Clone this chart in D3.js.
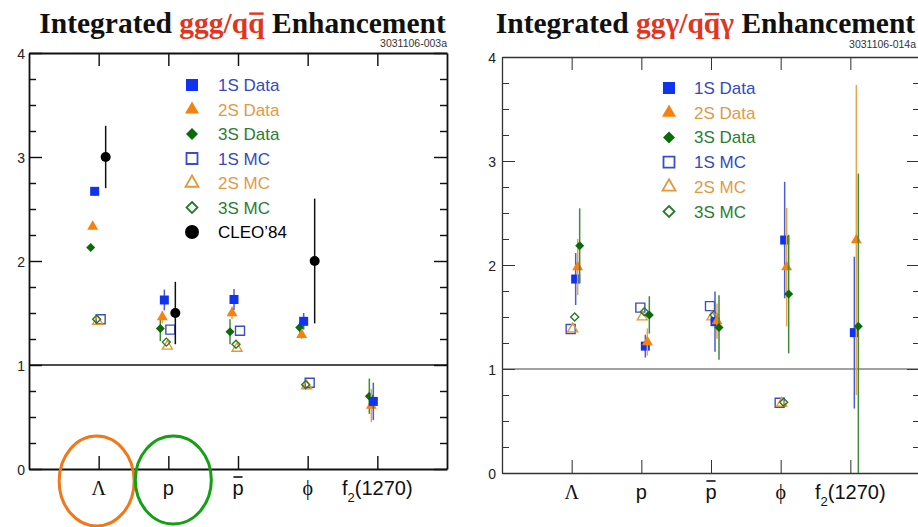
<!DOCTYPE html>
<html><head><meta charset="utf-8">
<script src="https://cdn.jsdelivr.net/npm/d3@7"></script>
<style>html,body{margin:0;padding:0;background:#fff;}svg{display:block;}</style>
</head><body><svg id="chart" width="918" height="527"></svg>
<script>
// ---------- DATA ----------
const categories = ["Λ", "p", "p\u0304", "ϕ", "f2(1270)"];
const yTickLabels = [0, 1, 2, 3, 4];
const seriesNames = ["1S Data", "2S Data", "3S Data", "1S MC", "2S MC", "3S MC", "CLEO’84"];

// Left panel: ggg / q q̄
const ggg1SData = [2.67, 1.625, 1.63, 1.42, 0.65];
const ggg1SErr  = [0.04, 0.10, 0.10, 0.08, 0.18];
const ggg2SData = [2.33, 1.46, 1.50, 1.29, 0.61];
const ggg2SErr  = [0.03, 0.06, 0.06, 0.04, 0.16];
const ggg3SData = [2.13, 1.35, 1.32, 1.36, 0.70];
const ggg3SErr  = [0.02, 0.12, 0.12, 0.05, 0.17];
const ggg1SMC   = [1.44, 1.34, 1.33, 0.83, null];
const ggg2SMC   = [1.42, 1.18, 1.16, 0.80, null];
const ggg3SMC   = [1.44, 1.22, 1.20, 0.81, null];
const gggCLEO   = [3.0, 1.5, null, 2.0, null];
const gggCLEOErr= [0.3, 0.3, null, 0.6, null];

// Right panel: ggγ / q q̄ γ
const ggy1SData = [1.865, 1.22, 1.455, 2.24, 1.35];
const ggy1SErr  = [0.25, 0.11, 0.29, 0.56, 0.73];
const ggy2SData = [1.98, 1.26, 1.46, 1.98, 2.24];
const ggy2SErr  = [0.27, 0.13, 0.17, 0.57, 1.49];
const ggy3SData = [2.185, 1.52, 1.40, 1.72, 1.41];
const ggy3SErr  = [0.36, 0.18, 0.31, 0.57, 1.47];
const ggy1SMC   = [1.385, 1.59, 1.605, 0.676, null];
const ggy2SMC   = [1.385, 1.50, 1.50, 0.67, null];
const ggy3SMC   = [1.50, 1.55, 1.52, 0.68, null];

// ---------- STYLE ----------
const C = {
  blue: "#0f33f0", blueOpen: "#3b4ec6", blueText: "#3649be", blueErr: "#4a5ed2",
  orange: "#f5820f", orangeOpen: "#e8953a", orangeText: "#e19a45", orangeErr: "#e9a448",
  green: "#0b6b0b", greenOpen: "#2a7a2a", greenText: "#2c7d33", greenErr: "#3d8c3d",
  red: "#e0361f"
};
const styles = {
  "1S Data": {shape: "square", filled: true, color: C.blue, text: C.blueText, err: C.blueErr},
  "2S Data": {shape: "triangle", filled: true, color: C.orange, text: C.orangeText, err: C.orangeErr},
  "3S Data": {shape: "diamond", filled: true, color: C.green, text: C.greenText, err: C.greenErr},
  "1S MC": {shape: "square", filled: false, color: C.blueOpen, text: C.blueText, err: C.blueErr},
  "2S MC": {shape: "triangle", filled: false, color: C.orangeOpen, text: C.orangeText, err: C.orangeErr},
  "3S MC": {shape: "diamond", filled: false, color: C.greenOpen, text: C.greenText, err: C.greenErr},
  "CLEO’84": {shape: "circle", filled: true, color: "#000", text: "#000", err: "#111"}
};

function markerPath(shape, w) {
  if (shape === "square") return d3.symbol(d3.symbolSquare, w * w)();
  if (shape === "circle") return d3.symbol(d3.symbolCircle, Math.PI * w * w / 4)();
  if (shape === "triangle") return d3.symbol(d3.symbolTriangle, Math.sqrt(3) / 4 * w * w)();
  const h = w / 2;
  return `M0,${-h}L${h},0L0,${h}L${-h},0Z`;
}
const plotSize = {square: 9, triangle: 11, diamond: 9, circle: 10};
const openSize = {square: 9, triangle: 10, diamond: 8};
const legendSize = {square: 12, triangle: 14, diamond: 12, circle: 14};

const svg = d3.select("#chart");

function drawTitle(cx, baseline, parts, size) {
  const t = svg.append("text").attr("x", cx).attr("y", baseline).attr("text-anchor", "middle")
    .style("font-family", "'Liberation Serif','Times New Roman',serif").style("font-weight", "bold")
    .style("font-size", size + "px");
  let idx = 0; const bars = [];
  parts.forEach(p => {
    t.append("tspan").text(p.t).attr("fill", p.c);
    if (p.bar) bars.push(idx);
    idx += p.t.length;
  });
  const node = t.node();
  bars.forEach(i => {
    const s = node.getStartPositionOfChar(i).x, e = node.getEndPositionOfChar(i).x;
    svg.append("line").attr("x1", s + 1).attr("x2", e - 1)
      .attr("y1", baseline - size * 0.64).attr("y2", baseline - size * 0.64)
      .attr("stroke", C.red).attr("stroke-width", 2.4);
  });
}

function drawPanel(o) {
  const {L, R, T, B} = o;
  const x = d3.scalePoint().domain(categories).range([L, R]).padding(1);
  const y = d3.scaleLinear().domain([0, 4]).range([B, T]);
  const minor = d3.range(1, 16).filter(i => i % 4).map(i => i / 4);
  const g = svg.append("g");
  const sw = o.lineW, lc = o.lineC;

  const styleAxis = sel => {
    sel.selectAll("path.domain").attr("stroke", lc).attr("stroke-width", sw);
    sel.selectAll(".tick line").attr("stroke", lc).attr("stroke-width", sw * 0.8);
  };
  g.append("g").attr("transform", `translate(${L},0)`)
    .call(d3.axisLeft(y).tickValues(minor).tickSizeInner(-7).tickSizeOuter(0).tickFormat(""))
    .call(s => s.select(".domain").remove()).call(styleAxis);
  g.append("g").attr("transform", `translate(${L},0)`)
    .call(d3.axisLeft(y).tickValues(yTickLabels).tickSizeInner(-13).tickSizeOuter(0).tickPadding(o.labPad).tickFormat(d3.format("d")))
    .call(styleAxis)
    .call(s => s.selectAll("text").attr("fill", "#222").attr("dy", "0.40em")
      .style("font-family", "'Liberation Sans',Arial,sans-serif").style("font-size", "14px"));
  g.append("g").attr("transform", `translate(${R},0)`)
    .call(d3.axisRight(y).tickValues(minor).tickSizeInner(-7).tickSizeOuter(0).tickFormat(""))
    .call(s => s.select(".domain").remove()).call(styleAxis);
  g.append("g").attr("transform", `translate(${R},0)`)
    .call(d3.axisRight(y).tickValues(yTickLabels).tickSizeInner(-13).tickSizeOuter(0).tickFormat(""))
    .call(styleAxis);
  g.append("g").attr("transform", `translate(0,${T})`)
    .call(d3.axisTop(x).tickSizeInner(-13).tickSizeOuter(0).tickFormat("")).call(styleAxis);
  g.append("g").attr("transform", `translate(0,${B})`)
    .call(d3.axisBottom(x).tickSizeInner(-13).tickSizeOuter(0).tickFormat("")).call(styleAxis);

  const lb = B + 26;
  categories.forEach(c => {
    const cx = x(c);
    const t = g.append("text").attr("x", cx).attr("y", lb).attr("text-anchor", "middle")
      .attr("fill", "#111").style("font-size", "20px")
      .style("font-family", "'Liberation Sans',Arial,sans-serif");
    if (c === "Λ" || c === "ϕ") {
      t.text(c).style("font-family", "'Liberation Serif','Times New Roman',serif");
    } else if (c.indexOf("\u0304") >= 0) {
      t.text(c.replace("\u0304", ""));
      const bb = t.node().getBBox();
      g.append("line").attr("x1", bb.x + 1).attr("x2", bb.x + bb.width - 1)
        .attr("y1", lb - 18).attr("y2", lb - 18).attr("stroke", "#111").attr("stroke-width", 1.6);
    } else if (c.startsWith("f2")) {
      t.append("tspan").text("f");
      t.append("tspan").text("2").attr("dy", 7).style("font-size", "13px");
      t.append("tspan").text(c.slice(2)).attr("dy", -7);
    } else {
      t.text(c);
    }
  });

  g.append("line").attr("x1", L).attr("x2", R).attr("y1", y(1)).attr("y2", y(1))
    .attr("stroke", o.oneC).attr("stroke-width", o.oneW);

  const cid = "clip" + L;
  svg.append("clipPath").attr("id", cid).append("rect")
    .attr("x", L).attr("y", T).attr("width", R - L).attr("height", B - T);
  const pg = svg.append("g").attr("clip-path", `url(#${cid})`);

  o.series.forEach(s => {
    const st = styles[s.name];
    const off = o.offsets[s.name];
    const pts = categories.map((c, i) => ({c, v: s.values[i], e: s.errors ? s.errors[i] : null}))
      .filter(d => d.v != null);
    pg.selectAll(null).data(pts.filter(d => d.e != null)).join("line")
      .attr("x1", d => x(d.c) + off).attr("x2", d => x(d.c) + off)
      .attr("y1", d => y(d.v - d.e)).attr("y2", d => y(d.v + d.e))
      .attr("stroke", st.err).attr("stroke-width", o.errW);
    const size = st.filled ? plotSize[st.shape] : openSize[st.shape];
    pg.selectAll(null).data(pts).join("path")
      .attr("transform", d => `translate(${x(d.c) + off},${y(d.v)})`)
      .attr("d", markerPath(st.shape, size))
      .attr("fill", st.filled ? st.color : "none")
      .attr("stroke", st.filled ? "none" : st.color)
      .attr("stroke-width", st.filled ? 0 : 1.4);
  });

  o.legendNames.forEach((n, i) => {
    const st = styles[n];
    const yy = o.leg.y0 + i * o.leg.dy;
    g.append("path").attr("transform", `translate(${o.leg.mx},${yy})`)
      .attr("d", markerPath(st.shape, st.filled ? legendSize[st.shape] : legendSize[st.shape] - 1))
      .attr("fill", st.filled ? st.color : "none")
      .attr("stroke", st.filled ? "none" : st.color).attr("stroke-width", st.filled ? 0 : 1.8);
    g.append("text").attr("x", o.leg.tx).attr("y", yy + 6).text(n).attr("fill", st.text)
      .style("font-family", "'Liberation Sans',Arial,sans-serif").style("font-size", "17px");
  });
  return {x, y};
}

const left = drawPanel({
  L: 29, R: 447, T: 53, B: 469, labPad: 4, lineW: 1.8, lineC: "#111", oneW: 1.6, oneC: "#111", errW: 1.5,
  offsets: {"1S Data": -4, "2S Data": -6, "3S Data": -8, "1S MC": 2, "2S MC": -1, "3S MC": -2, "CLEO’84": 7},
  series: [
    {name: "1S MC", values: ggg1SMC}, {name: "2S MC", values: ggg2SMC}, {name: "3S MC", values: ggg3SMC},
    {name: "3S Data", values: ggg3SData, errors: ggg3SErr},
    {name: "2S Data", values: ggg2SData, errors: ggg2SErr},
    {name: "1S Data", values: ggg1SData, errors: ggg1SErr},
    {name: "CLEO’84", values: gggCLEO, errors: gggCLEOErr}
  ],
  legendNames: seriesNames,
  leg: {mx: 192, tx: 218, y0: 85, dy: 24.5}
});

const right = drawPanel({
  L: 502, R: 920, T: 57, B: 473, labPad: 6, lineW: 1.3, lineC: "#333", oneW: 1.2, oneC: "#444", errW: 1.5,
  offsets: {"1S Data": 4, "2S Data": 6, "3S Data": 8, "1S MC": -1, "2S MC": 1, "3S MC": 3},
  series: [
    {name: "1S MC", values: ggy1SMC}, {name: "2S MC", values: ggy2SMC}, {name: "3S MC", values: ggy3SMC},
    {name: "1S Data", values: ggy1SData, errors: ggy1SErr},
    {name: "2S Data", values: ggy2SData, errors: ggy2SErr},
    {name: "3S Data", values: ggy3SData, errors: ggy3SErr}
  ],
  legendNames: seriesNames.slice(0, 6),
  leg: {mx: 669, tx: 694, y0: 88, dy: 24.7}
});

drawTitle(242.5, 32.5, [{t: "Integrated ", c: "#111"}, {t: "ggg/q", c: C.red}, {t: "q", c: C.red, bar: true}, {t: " Enhancement", c: "#111"}], 29.5);
drawTitle(705.5, 33, [{t: "Integrated ", c: "#111"}, {t: "ggγ/q", c: C.red}, {t: "q", c: C.red, bar: true}, {t: "γ", c: C.red}, {t: " Enhancement", c: "#111"}], 29.5);
svg.append("text").attr("x", 447).attr("y", 47).attr("text-anchor", "end").text("3031106-003a")
  .attr("fill", "#333").style("font-family", "'Liberation Sans',Arial,sans-serif").style("font-size", "10.5px");
svg.append("text").attr("x", 916).attr("y", 48).attr("text-anchor", "end").text("3031106-014a")
  .attr("fill", "#333").style("font-family", "'Liberation Sans',Arial,sans-serif").style("font-size", "10.5px");

svg.append("ellipse").attr("cx", left.x("Λ") - 2).attr("cy", 481).attr("rx", 37.5).attr("ry", 45)
  .attr("fill", "none").attr("stroke", "#f07818").attr("stroke-width", 3);
svg.append("ellipse").attr("cx", left.x("p") + 5).attr("cy", 480).attr("rx", 38).attr("ry", 44)
  .attr("fill", "none").attr("stroke", "#14a014").attr("stroke-width", 3);
</script></body></html>
